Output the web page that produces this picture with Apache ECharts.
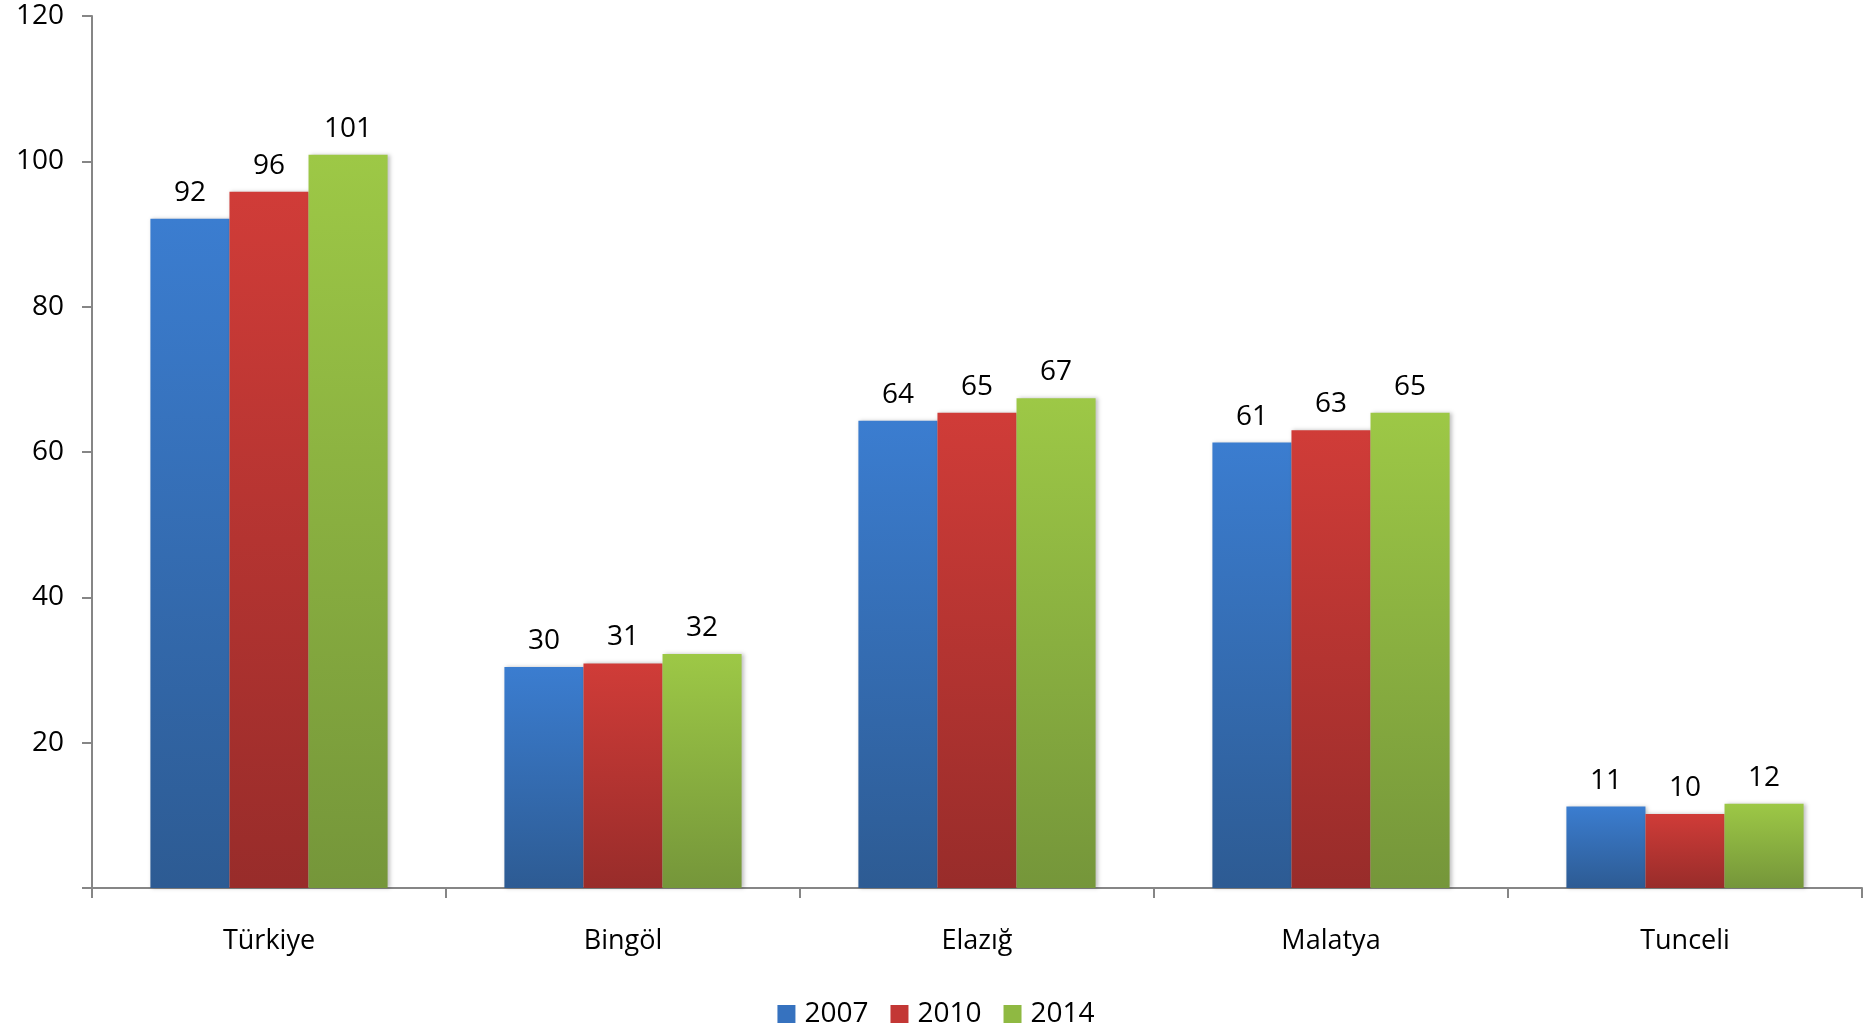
<!DOCTYPE html>
<html>
<head>
<meta charset="utf-8">
<script src="https://cdn.jsdelivr.net/npm/echarts@6/dist/echarts.min.js"></script>
<style>
  html, body { margin: 0; padding: 0; background: #fff; }
  #chart { width: 1872px; height: 1031px; }
</style>
</head>
<body>
<div id="chart"></div>
<script>
// iller / kategoriler
const categories = ['Türkiye', 'Bingöl', 'Elazığ', 'Malatya', 'Tunceli'];
const years = ['2007', '2010', '2014'];
// değerler
const values2007 = [92.1, 30.4, 64.3, 61.3, 11.2];
const values2010 = [95.8, 30.9, 65.4, 63.0, 10.2];
const values2014 = [100.9, 32.2, 67.4, 65.4, 11.6];

const seriesData = [values2007, values2010, values2014];
const colors = [
  ['#3b7dd0', '#2d5b93'],
  ['#d03c38', '#982c2a'],
  ['#9dc846', '#75963a']
];
const legendColors = ['#3672bf', '#c33735', '#8fb942'];

const fontFamily = '"Open Sans", "Liberation Sans", sans-serif';

var chart = echarts.init(document.getElementById('chart'));

var option = {
  animation: false,
  grid: { left: 92, right: 10, top: 16, bottom: 143 },
  legend: {
    bottom: -2,
    left: 'center',
    itemWidth: 18,
    itemHeight: 18,
    itemGap: 22,
    icon: 'rect',
    textStyle: { fontFamily: fontFamily, fontSize: 28, color: '#000', padding: [0, 0, 0, 4] },
    data: years.map((y, i) => ({ name: y, itemStyle: { color: legendColors[i] } }))
  },
  xAxis: {
    type: 'category',
    data: categories,
    axisLine: { lineStyle: { color: '#868686', width: 2 } },
    axisTick: { show: true, length: 10, lineStyle: { color: '#868686', width: 2 } },
    axisLabel: { fontFamily: fontFamily, fontSize: 27, color: '#000', margin: 40 }
  },
  yAxis: {
    type: 'value',
    min: 0,
    max: 120,
    interval: 20,
    splitLine: { show: false },
    axisLine: { show: true, lineStyle: { color: '#868686', width: 2 } },
    axisTick: { show: true, length: 10, lineStyle: { color: '#868686', width: 2 } },
    axisLabel: {
      fontFamily: fontFamily, fontSize: 28, color: '#000', margin: 28,
      formatter: v => (v === 0 ? '' : v)
    }
  },
  series: seriesData.map((data, i) => ({
    name: years[i],
    type: 'bar',
    data: data,
    barGap: '0%',
    barCategoryGap: '33%',
    itemStyle: {
      color: new echarts.graphic.LinearGradient(0, 0, 0, 1, [
        { offset: 0, color: colors[i][0] },
        { offset: 1, color: colors[i][1] }
      ]),
      shadowColor: 'rgba(0,0,0,0.25)',
      shadowBlur: 4,
      shadowOffsetX: 2
    },
    label: {
      show: true,
      position: 'top',
      distance: 12,
      fontFamily: fontFamily,
      fontSize: 28,
      color: '#000',
      formatter: p => Math.round(p.value)
    }
  }))
};

chart.setOption(option);
</script>
</body>
</html>
